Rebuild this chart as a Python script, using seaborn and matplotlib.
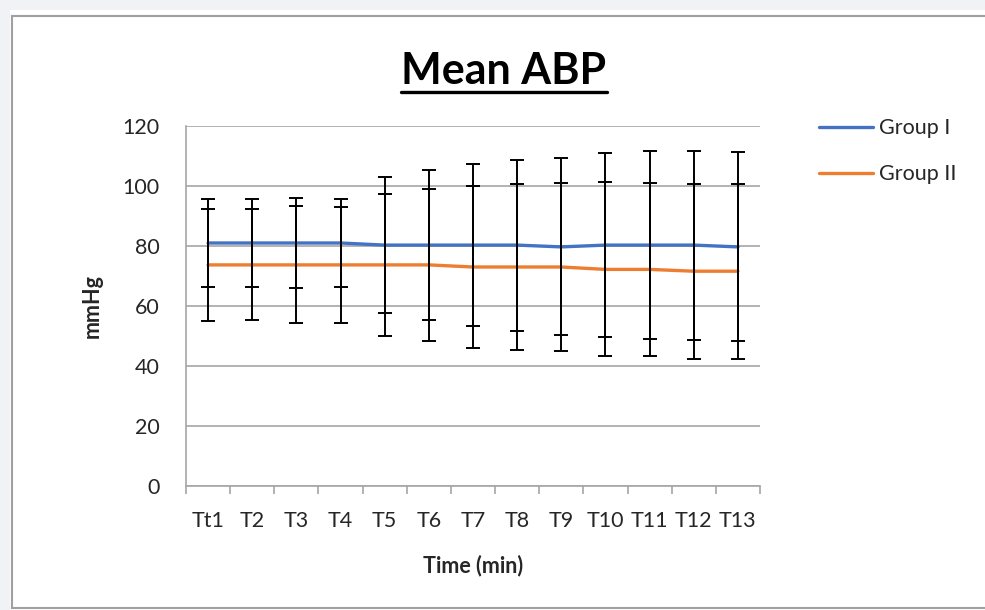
import numpy as np
import pandas as pd
import matplotlib
matplotlib.use('Agg')
import matplotlib.pyplot as plt
import seaborn as sns
from matplotlib.patches import Rectangle
from matplotlib.lines import Line2D

# Valores (média e desvio padrão, mmHg)
time_labels = ['Tt1', 'T2', 'T3', 'T4', 'T5', 'T6', 'T7',
               'T8', 'T9', 'T10', 'T11', 'T12', 'T13']
group1_mean = [81, 81, 81, 81, 80.3, 80.3, 80.3, 80.3, 79.7, 80.3, 80.3, 80.3, 79.7]
group1_sd = [14.8, 14.6, 15.0, 14.6, 22.7, 25.0, 27.0, 28.5, 29.5, 30.6, 31.3, 31.5, 31.5]
group2_mean = [73.7, 73.7, 73.7, 73.7, 73.7, 73.7, 73.0, 73.0, 73.0, 72.2, 72.2, 71.6, 71.6]
group2_sd = [18.8, 18.5, 19.5, 19.2, 23.7, 25.3, 27.0, 27.8, 28.0, 29.0, 28.8, 29.1, 29.1]

BLUE = '#4472C4'
ORANGE = '#ED7D31'
GRID = '#a6a6a6'
TXT = '#262626'
FS = 15.5

sns.set_theme(style='white')
plt.rcParams['font.family'] = ['Lato', 'DejaVu Sans']

df = pd.concat([
    pd.DataFrame({'time': time_labels, 'mean': group1_mean, 'sd': group1_sd, 'group': 'Group I'}),
    pd.DataFrame({'time': time_labels, 'mean': group2_mean, 'sd': group2_sd, 'group': 'Group II'}),
], ignore_index=True)

fig = plt.figure(figsize=(9.85, 6.10), dpi=100)
fig.patch.set_facecolor('white')

# Moldura no estilo da captura de tela
fig.add_artist(Rectangle((0, 1 - 10 / 610), 1, 10 / 610, transform=fig.transFigure,
                         facecolor='#f0f2f5', edgecolor='none', zorder=0))
fig.add_artist(Rectangle((0, 0), 10 / 985, 1, transform=fig.transFigure,
                         facecolor='#f0f2f5', edgecolor='none', zorder=0))
fig.add_artist(Rectangle((12 / 985, 2 / 610), 1.0, 592 / 610, transform=fig.transFigure,
                         facecolor='white', edgecolor='#a0a0a0', linewidth=1.5, zorder=0))

ax = fig.add_axes([186 / 985, 1 - 486 / 610, (760 - 186) / 985, 360 / 610])
ax.set_facecolor('white')

sns.lineplot(data=df, x='time', y='mean', hue='group', sort=False,
             palette={'Group I': BLUE, 'Group II': ORANGE},
             linewidth=2.4, ax=ax, legend=False, zorder=3)

xpos = np.arange(len(time_labels))
for means, sds in [(group1_mean, group1_sd), (group2_mean, group2_sd)]:
    ax.errorbar(xpos, means, yerr=sds, fmt='none', ecolor='black',
                elinewidth=1.4, capsize=5, capthick=1.4, zorder=4)

ax.set_ylim(0, 120)
ax.set_xlim(-0.5, len(time_labels) - 0.5)
ax.set_yticks(range(0, 121, 20))
ax.yaxis.grid(True, color=GRID, linewidth=1.2)
ax.set_axisbelow(True)

for side in ['top', 'right']:
    ax.spines[side].set_visible(False)
for side in ['left', 'bottom']:
    ax.spines[side].set_color(GRID)
    ax.spines[side].set_linewidth(1.2)

ax.set_xticks(xpos)
ax.set_xticklabels(time_labels)
ax.set_xticks(np.arange(-0.5, len(time_labels), 1.0), minor=True)
ax.tick_params(axis='x', which='major', length=0, pad=18, labelsize=FS, labelcolor=TXT)
ax.tick_params(axis='x', which='minor', length=6, width=1.2, color=GRID, direction='out')
ax.tick_params(axis='y', length=7, width=1.2, color=GRID, direction='out',
               pad=12, labelsize=FS, labelcolor=TXT)
ax.tick_params(axis='x', which='both', bottom=True)

ax.set_xlabel('Time (min)', fontsize=FS, fontweight='bold', color=TXT, labelpad=17)
ax.set_ylabel('mmHg', fontsize=FS, fontweight='bold', color=TXT, labelpad=14)

title = fig.text(504 / 985, 1 - 71 / 610, 'Mean ABP', ha='center', va='center',
                 fontsize=31, fontweight='bold', color='black')

# Sublinhado do título
fig.canvas.draw()
bb = title.get_window_extent().transformed(fig.transFigure.inverted())
fig.add_artist(Line2D([bb.x0, bb.x1], [1 - 92 / 610] * 2, transform=fig.transFigure,
                      color='black', linewidth=2.4))

handles = [Line2D([], [], color=BLUE, linewidth=2.4),
           Line2D([], [], color=ORANGE, linewidth=2.4)]
fig.legend(handles, ['Group I', 'Group II'], loc='upper left',
           bbox_to_anchor=(800 / 985, 1 - 99 / 610), frameon=False,
           fontsize=FS, labelspacing=1.2, handlelength=2.5, handletextpad=0.25,
           labelcolor=TXT)

fig.savefig('out.png', dpi=100)
